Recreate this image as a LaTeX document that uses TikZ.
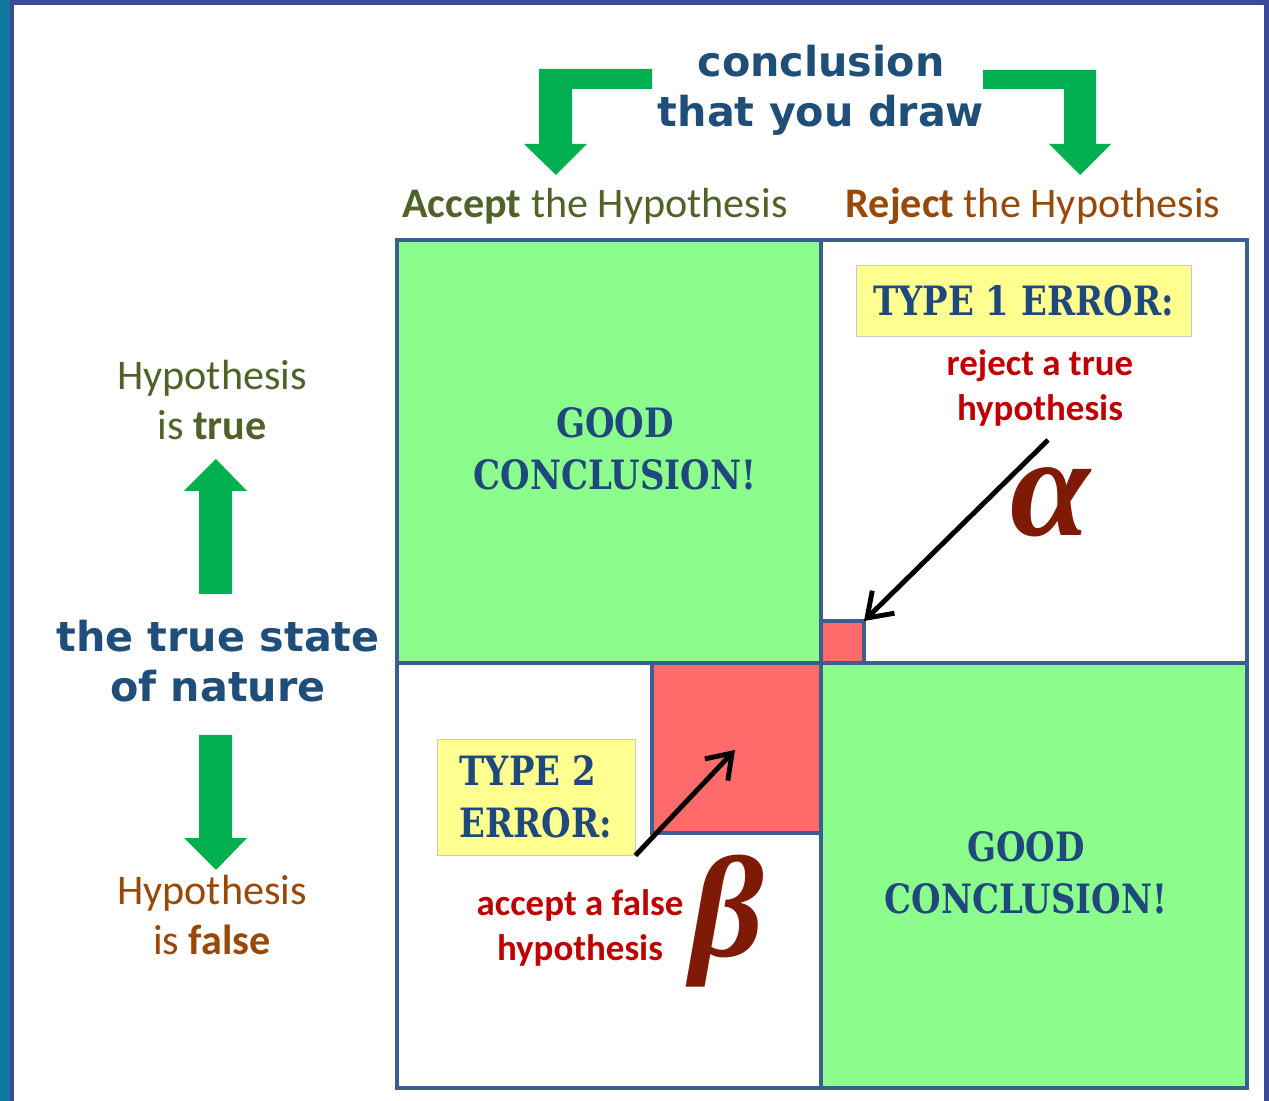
\documentclass[tikz,border=0pt]{standalone}
\usepackage{fontspec}
\setmainfont{Carlito}
\newfontfamily\verdfont{DejaVu Sans}
\newfontfamily\stencilfont[FakeStretch=0.84]{DejaVu Serif}
\newfontfamily\greekfont{Liberation Serif}
\usetikzlibrary{arrows.meta,positioning,calc}
\definecolor{frameTeal}{HTML}{0F7A9C}
\definecolor{frameBlue}{HTML}{3B4A9B}
\definecolor{gridCol}{HTML}{3A5F8F}
\definecolor{goodGreen}{HTML}{8CFD8C}
\definecolor{errRed}{HTML}{FF6B6B}
\definecolor{noteYellow}{HTML}{FFFF8F}
\definecolor{arrGreen}{HTML}{00B050}
\definecolor{navyText}{HTML}{1F4E79}
\definecolor{stencilText}{HTML}{1F497D}
\definecolor{oliveText}{HTML}{4F6228}
\definecolor{brownText}{HTML}{984807}
\definecolor{redText}{HTML}{C00000}
\definecolor{greekCol}{HTML}{7F1A06}
\tikzset{
	cell/.style={draw=gridCol, line width=2.2pt, inner sep=0, outer sep=0, anchor=north west},
	errsq/.style={cell, fill=errRed},
	stenciltxt/.style={font=\stencilfont\bfseries\fontsize{23}{29.5}\selectfont, text=stencilText, align=center, inner sep=0},
	notebox/.style={stenciltxt, fill=noteYellow, draw=black!20, line width=0.5pt},
	headtxt/.style={font=\verdfont\bfseries\fontsize{23.5}{28.5}\selectfont, text=navyText, align=center},
	coltxt/.style={font=\fontsize{24}{28}\selectfont, inner sep=0},
	sidetxt/.style={font=\fontsize{24}{28.5}\selectfont, align=center, inner sep=0},
	errtxt/.style={font=\bfseries\fontsize{21}{25.5}\selectfont, text=redText, align=center, inner sep=0},
	greek/.style={font=\greekfont\bfseries\itshape\fontsize{82}{82}\selectfont, text=greekCol, inner sep=0},
	ptr/.style={->, >={Straight Barb[length=13pt,width=18pt]}, line width=2.8pt, black},
	blockarr/.style={fill=arrGreen}
}

\begin{document}
\begin{tikzpicture}[x=0.02cm, y=-0.02cm]
\useasboundingbox (0,0) rectangle (1269,1101);
\fill[frameTeal] (0,0) rectangle (10,1101);
\fill[frameBlue] (10,0) rectangle (14,1101);
\fill[frameBlue] (10,0) rectangle (1269,5);
\fill[frameBlue] (1264,0) rectangle (1269,1101);

\node[cell, fill=goodGreen, minimum width=8.48cm, minimum height=8.46cm] (good1) at (397,240) {};
\node[cell, fill=white, minimum width=8.52cm, minimum height=8.46cm] (rej1) at (821,240) {};
\node[cell, fill=white, minimum width=8.48cm, minimum height=8.5cm] (acc2) at (397,663) {};
\node[cell, fill=goodGreen, minimum width=8.52cm, minimum height=8.5cm] (good2) at (821,663) {};
\node[errsq, anchor=south west, minimum width=0.86cm, minimum height=0.84cm] (alphasq) at (821,663) {};
\node[errsq, anchor=north east, minimum width=3.38cm, minimum height=3.4cm] (betasq) at (821,663) {};
\node[stenciltxt] (good1txt) at (615,449) {GOOD\\CONCLUSION!};
\node[stenciltxt] (good2txt) at (1026,873) {GOOD\\CONCLUSION!};

\node[headtxt] (concl) at (821,90) {conclusion\\that you draw};
\node[coltxt, text=oliveText] (acchead) at (595,206) {\textbf{Accept} the Hypothesis};
\node[coltxt, text=brownText] (rejhead) at (1033,206) {\textbf{Reject} the Hypothesis};
\node[sidetxt, text=oliveText] (htrue) at (212,400) {Hypothesis\\is \textbf{true}};
\node[headtxt] (nature) at (218,661) {the true state\\of nature};
\node[sidetxt, text=brownText] (hfalse) at (212,915) {Hypothesis\\is \textbf{false}};

\fill[blockarr] (652,69) -- (539,69) -- (539,144) -- (524,144) -- (556,175) -- (587,144) -- (572,144) -- (572,89) -- (652,89) -- cycle;
\fill[blockarr] (983,70) -- (1096,70) -- (1096,144) -- (1111,144) -- (1080,175) -- (1049,144) -- (1064,144) -- (1064,89) -- (983,89) -- cycle;
\fill[blockarr] (199,594) -- (199,491) -- (184,491) -- (216,459) -- (247,491) -- (232,491) -- (232,594) -- cycle;
\fill[blockarr] (199,735) -- (199,838) -- (184,838) -- (216,870) -- (247,838) -- (232,838) -- (232,735) -- cycle;

\node[notebox, minimum width=6.7cm, minimum height=1.42cm] (type1) at (1023.5,300.5) {TYPE 1 ERROR:};
\node[errtxt] (rejtxt) at (1040,388) {reject a true\\hypothesis};
\node[notebox, minimum width=3.96cm, minimum height=2.32cm, align=left] (type2) at (536,797) {TYPE 2\\ERROR:};
\node[errtxt] (acctxt) at (580,928) {accept a false\\hypothesis};

\coordinate (atail) at (1048,440);
\coordinate (bhead) at (735,750);
\draw[ptr] (atail) -- (alphasq.north east);
\draw[ptr] (type2.south east) -- (bhead);

\node[greek] (alpha) at (1050,502) {α};
\node[greek] (beta) at (727,921) {β};
\end{tikzpicture}
\end{document}
